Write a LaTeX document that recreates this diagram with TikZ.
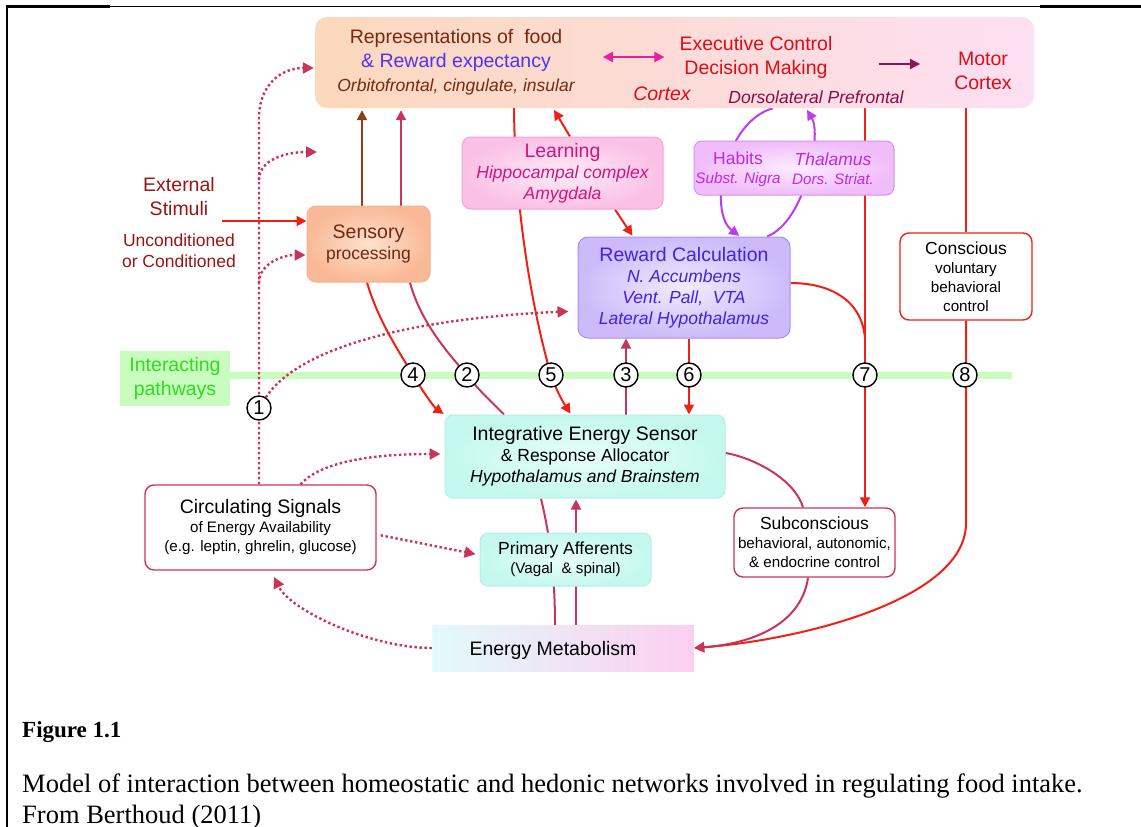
\documentclass[tikz,border=0pt]{standalone}
\usepackage{fontspec}
\setmainfont{Liberation Sans}
\newfontfamily\capfont{Liberation Serif}
\usetikzlibrary{calc,arrows.meta,backgrounds}
\definecolor{cortexL}{RGB}{252,216,188}
\definecolor{cortexR}{RGB}{253,223,243}
\definecolor{sensOut}{RGB}{249,185,150}
\definecolor{sensIn}{RGB}{253,225,205}
\definecolor{sensEdge}{RGB}{246,178,140}
\definecolor{sensText}{RGB}{110,40,20}
\definecolor{reprBrown}{RGB}{120,40,15}
\definecolor{rewBlue}{RGB}{80,50,240}
\definecolor{execRed}{RGB}{222,12,22}
\definecolor{dlpfcPlum}{RGB}{140,10,70}
\definecolor{stimRed}{RGB}{155,20,20}
\definecolor{learnOut}{RGB}{251,192,230}
\definecolor{learnIn}{RGB}{255,236,249}
\definecolor{learnEdge}{RGB}{242,165,212}
\definecolor{learnText}{RGB}{210,20,125}
\definecolor{habitOut}{RGB}{240,188,250}
\definecolor{habitIn}{RGB}{252,236,255}
\definecolor{habitEdge}{RGB}{216,145,240}
\definecolor{habitText}{RGB}{192,40,230}
\definecolor{rewOut}{RGB}{204,186,250}
\definecolor{rewIn}{RGB}{242,236,255}
\definecolor{rewEdge}{RGB}{172,142,240}
\definecolor{rewText}{RGB}{70,30,230}
\definecolor{hubOut}{RGB}{196,248,238}
\definecolor{hubIn}{RGB}{232,255,251}
\definecolor{hubEdge}{RGB}{176,240,228}
\definecolor{energyL}{RGB}{226,250,250}
\definecolor{energyR}{RGB}{252,206,240}
\definecolor{bandGreen}{RGB}{202,252,192}
\definecolor{bandText}{RGB}{45,222,30}
\definecolor{lineRed}{RGB}{240,32,20}
\definecolor{pinkRed}{RGB}{200,52,90}
\definecolor{brownLine}{RGB}{140,62,22}
\definecolor{violetLine}{RGB}{190,60,240}
\definecolor{duoMagenta}{RGB}{232,30,160}
\definecolor{plumArrow}{RGB}{140,20,80}
\newcommand{\headfont}{\fontsize{19.5}{24}\selectfont}
\newcommand{\subfont}{\fontsize{17.5}{21}\selectfont}
\newcommand{\notefont}{\fontsize{15.2}{19}\selectfont}
\newcommand{\numfont}{\fontsize{20}{22}\selectfont}

\begin{document}
\begin{tikzpicture}[x=1pt, y=-1pt,
    txt/.style={inner sep=1pt, align=center},
    cortexbox/.style={rounded corners=12pt, left color=cortexL, right color=cortexR, minimum width=719pt, minimum height=91pt},
    procbox/.style={draw=sensEdge, line width=1pt, rounded corners=9pt, inner color=sensIn, outer color=sensOut, minimum width=123pt, minimum height=76pt, align=center, font=\subfont, text=sensText},
    learnbox/.style={draw=learnEdge, line width=1pt, rounded corners=9pt, inner color=learnIn, outer color=learnOut, minimum width=201pt, minimum height=72pt, align=center, font=\subfont\itshape, text=learnText},
    habitbox/.style={draw=habitEdge, line width=1pt, rounded corners=8pt, inner color=habitIn, outer color=habitOut, minimum width=200pt, minimum height=54pt},
    rewbox/.style={draw=rewEdge, line width=1pt, rounded corners=10pt, inner color=rewIn, outer color=rewOut, minimum width=212pt, minimum height=101pt, align=center, font=\subfont\itshape, text=rewText},
    hubbox/.style={draw=hubEdge, line width=1pt, rounded corners=8pt, inner color=hubIn, outer color=hubOut, align=center, font=\subfont},
    plainbox/.style={draw=pinkRed, line width=1.4pt, rounded corners=9pt, fill=white, align=center, font=\notefont},
    energybox/.style={left color=energyL, right color=energyR, minimum width=262pt, minimum height=46pt},
    greenbox/.style={fill=bandGreen, text=bandText, minimum width=110pt, minimum height=55pt, align=center, font=\headfont},
    numdot/.style={circle, draw=black, line width=1.4pt, fill=white, minimum size=24pt, inner sep=0pt, font=\numfont},
    line/.style={line width=2pt},
    arr/.style={line width=2pt, -{Triangle[length=10pt,width=10pt]}},
    duo/.style={line width=2.2pt, color=duoMagenta, {Triangle[length=10pt,width=10pt]}-{Triangle[length=10pt,width=10pt]}},
    dots/.style={line width=2.4pt, dash pattern=on 2.4pt off 2.6pt, color=pinkRed},
    dotarr/.style={dots, -{Triangle[length=11pt,width=11pt]}},
    band/.style={line width=7pt, color=bandGreen}
  ]
  \useasboundingbox (0,0) rectangle (1141,827);
  % frame
  \draw[line width=2.2pt] (7,6.5) -- (7,827);
  \draw[line width=2.2pt] (6,6.5) -- (110,6.5);
  \draw[line width=1.1pt] (110,6.5) -- (1040,6.5);
  \draw[line width=2.2pt] (1040,6.5) -- (1141,6.5);

  % cortex
  \node[cortexbox] (cortex) at (674.5,62.5) {};
  \node[txt, font=\headfont] (repr) at (456,62) {\textcolor{reprBrown}{Representations of \ food}\\ \textcolor{rewBlue}{\& Reward expectancy}\\ {\subfont\itshape\textcolor{reprBrown}{Orbitofrontal, cingulate, insular}}};
  \node[txt, font=\headfont, text=execRed] (exec) at (756,57) {Executive Control\\Decision Making};
  \node[txt, font=\headfont\itshape, text=execRed] (ctxword) at (662,94) {Cortex};
  \node[txt, font=\subfont\itshape, text=dlpfcPlum] (dlpfc) at (816,97) {Dorsolateral Prefrontal};
  \node[txt, font=\headfont, text=execRed] (motor) at (983,71) {Motor\\Cortex};
  \draw[duo, shorten <=27pt, shorten >=14pt] (repr.east |- exec.west) -- (exec.west);
  \draw[arr, color=plumArrow, shorten <=45pt, shorten >=33pt] ($(exec.east)+(0,7)$) -- ($(motor.west)+(0,-7)$);

  % left side
  \node[procbox] (sens) at (368.5,244) {{\headfont Sensory}\\processing};
  \node[txt, font=\headfont, text=stimRed] (ext) at (179,197) {External\\Stimuli};
  \node[txt, font=\subfont, text=stimRed] (uncond) at (179,251) {Unconditioned\\or Conditioned};
  \coordinate (stim) at (222,221);

  % middle
  \node[learnbox] (learn) at (562.5,173) {{\headfont\upshape Learning}\\Hippocampal complex\\Amygdala};
  \node[habitbox] (habits) at (794,168) {};
  \node[txt, font=\notefont, text=habitText] (habtxt) at (738,169) {{\subfont Habits}\\{\itshape Subst. Nigra}};
  \node[txt, font=\notefont, text=habitText] (thaltxt) at (833,168.5) {{\subfont\itshape Thalamus}\\{\itshape Dors. Striat.}};
  \node[rewbox] (reward) at (684,287.5) {{\headfont\upshape Reward Calculation}\\N. Accumbens\\Vent. Pall, \ VTA\\Lateral Hypothalamus};
  \node[plainbox, draw=lineRed, minimum width=132pt, minimum height=87pt] (consc) at (966,276.5) {{\subfont Conscious}\\voluntary\\behavioral\\control};

  % pathways
  \node[greenbox] (interact) at (175,378) {Interacting\\pathways};
  \coordinate (bandend) at (1012,375);
  \node[numdot] (c1) at (259,408) {1};
  \node[numdot] (c4) at (413,375) {4};
  \node[numdot] (c2) at (467,375) {2};
  \node[numdot] (c5) at (551,375) {5};
  \node[numdot] (c3) at (626,375) {3};
  \node[numdot] (c6) at (689,375) {6};
  \node[numdot] (c7) at (865,375) {7};
  \node[numdot] (c8) at (965,375) {8};

  % lower part
  \node[hubbox, minimum width=280pt, minimum height=83pt] (integ) at (585,456.5) {{\headfont Integrative Energy Sensor}\\\& Response Allocator\\{\itshape Hypothalamus and Brainstem}};
  \node[plainbox, minimum width=231pt, minimum height=85pt] (circ) at (260.5,527.5) {{\headfont Circulating Signals}\\of Energy Availability\\(e.g. leptin, ghrelin, glucose)};
  \node[hubbox, minimum width=171pt, minimum height=53pt, font=\notefont] (prim) at (565.5,559.5) {{\subfont Primary Afferents}\\(Vagal \ \& spinal)};
  \node[plainbox, minimum width=161pt, minimum height=69pt] (subcon) at (814.5,542.5) {{\subfont Subconscious}\\behavioral, autonomic,\\\& endocrine control};
  \node[energybox] (energy) at (563,648) {};
  \node[txt, font=\headfont] (energytxt) at (553,650) {Energy Metabolism};

  % caption
  \node[anchor=base west, inner sep=0pt, font=\capfont\bfseries\fontsize{23}{27}\selectfont] (figlabel) at (22,737) {Figure 1.1};
  \node[anchor=base west, inner sep=0pt, font=\capfont\fontsize{26.5}{31}\selectfont] (capline) at (22,792) {Model of interaction between homeostatic and hedonic networks involved in regulating food intake.};
  \node[anchor=base west, inner sep=0pt, font=\capfont\fontsize{26.5}{31}\selectfont] (capsrc) at (22,823) {From Berthoud (2011)};

  \begin{pgfonlayer}{background}
    \draw[band] (bandend -| interact.east) -- (bandend);
    % sensory
    \coordinate (sensL) at ([xshift=-6.5pt]sens.north);
    \coordinate (sensR) at ([xshift=32.5pt]sens.north);
    \draw[arr, color=brownLine, shorten >=2pt] (sensL) -- (sensL |- cortex.south);
    \draw[arr, color=pinkRed, shorten >=2pt] (sensR) -- (sensR |- cortex.south);
    \draw[arr, color=lineRed] (stim) -- (stim -| sens.west);
    % dotted signals
    \coordinate (fork1) at (259,180);
    \coordinate (fork2) at (259,283);
    \coordinate (loose) at (317,152);
    \draw[dotarr, shorten >=1pt] ([xshift=-1.5pt]circ.north) -- (259,118) .. controls (259,84) and (282,68) .. ([yshift=-5.5pt]cortex.west);
    \draw[dotarr] (fork1) .. controls (259,160) and (285,152) .. (loose);
    \draw[dotarr, shorten >=1pt] (fork2) .. controls (259,264) and (282,255) .. ([yshift=-11pt]sens.west);
    \draw[dotarr, shorten >=9pt] (c1) .. controls (300,345) and (420,318) .. ([yshift=-23.5pt]reward.west);
    \draw[dotarr, shorten >=4pt] ([xshift=40pt]circ.north) .. controls (318,465) and (360,454) .. ([yshift=2.5pt]integ.west);
    \draw[dotarr, shorten <=4pt, shorten >=4pt] ([yshift=-7pt]circ.east) -- ([yshift=4.5pt]prim.west);
    \draw[dotarr, shorten >=7pt] (energy.west) .. controls (370,648) and (290,610) .. ([xshift=10.5pt]circ.south);
    % numbered pathways
    \draw[arr, color=lineRed, shorten >=1pt] ([xshift=-1.5pt]sens.south) .. controls (378,320) and (398,350) .. (c4.center) .. controls (425,395) and (435,408) .. (integ.north west);
    \draw[line, color=pinkRed] ([xshift=41.5pt]sens.south) .. controls (420,320) and (445,350) .. (c2.center) .. controls (480,392) and (495,405) .. ([xshift=-81pt]integ.north);
    \draw[arr, color=lineRed, shorten >=1pt] ([xshift=-160.5pt]cortex.south) .. controls (515,220) and (535,320) .. (c5.center) .. controls (558,395) and (565,405) .. ([xshift=-14pt]integ.north);
    \coordinate (p3) at ([xshift=41pt]integ.north);
    \draw[arr, color=pinkRed] (p3) -- (p3 |- reward.south);
    \coordinate (p6) at ([xshift=5pt]reward.south);
    \draw[arr, color=lineRed] (p6) -- (p6 |- integ.north);
    \coordinate (p7) at ([xshift=190.5pt]cortex.south);
    \draw[arr, color=lineRed] (p7) -- (p7 |- subcon.north);
    \draw[line, color=lineRed] ([yshift=4.5pt]reward.east) .. controls (830,283) and (862,300) .. (p7 |- reward.south);
    % learning and habits
    \draw[arr, color=lineRed, shorten >=2pt] ([xshift=7.5pt]learn.north) -- ([xshift=-121.5pt]cortex.south);
    \draw[arr, color=lineRed, shorten >=1pt] ([xshift=52.5pt]learn.south) -- ([xshift=-51pt]reward.north);
    \draw[arr, color=violetLine, shorten >=1pt] ([xshift=98.5pt]cortex.south) .. controls (724,122) and (708,212) .. ([xshift=56pt]reward.north);
    \draw[arr, color=violetLine, shorten >=2pt] ([xshift=83pt]reward.north) .. controls (805,222) and (822,135) .. ([xshift=131.5pt]cortex.south);
    % conscious
    \draw[line, color=lineRed] (consc.north |- cortex.south) -- (consc.north);
    \draw[arr, color=lineRed] (consc.south) -- (966,523) .. controls (966,600) and (800,640) .. (energy.east);
    % subconscious
    \draw[line, color=pinkRed] ([yshift=3.5pt]integ.east) .. controls (755,458) and (795,480) .. ([xshift=-11.5pt]subcon.north);
    \draw[arr, color=pinkRed] ([xshift=-6.5pt]subcon.south) .. controls (802,620) and (760,643) .. (energy.east);
    % afferents
    \coordinate (aff) at ([xshift=13pt]energy.north);
    \draw[arr, color=pinkRed, shorten >=1pt] (aff) -- (aff |- integ.south);
    \draw[line, color=pinkRed] ([xshift=-8pt]energy.north) .. controls (555,560) and (546,520) .. ([xshift=-44pt]integ.south);
  \end{pgfonlayer}
\end{tikzpicture}
\end{document}
